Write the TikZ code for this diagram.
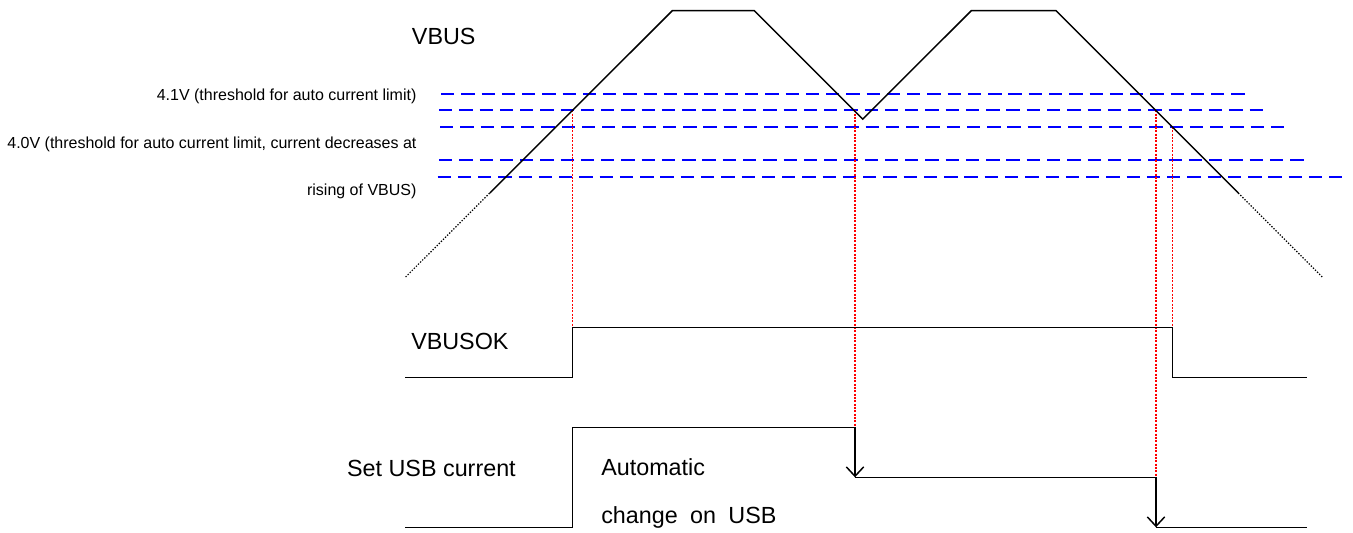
\documentclass[tikz,border=0pt]{standalone}
\usepackage{fontspec}
\setmainfont{Liberation Sans}
\usetikzlibrary{arrows.meta}

\begin{document}
\begin{tikzpicture}[x=0.75pt, y=-0.75pt,
wave/.style={draw=black, line width=1.1pt, line join=miter},
ext/.style={draw=black, line width=0.9pt, dash pattern=on 1pt off 1.2pt},
level/.style={draw=blue, line width=1.5pt, dash pattern=on 10pt off 5.2pt},
guide/.style={draw=red, line width=1.2pt, dash pattern=on 1.5pt off 1pt},
lbl/.style={inner sep=0, font=\fontsize{17.5}{21}\selectfont},
thr/.style={inner sep=0, font=\fontsize{12}{14}\selectfont},
>={Straight Barb[length=7pt,width=13pt]}]
	\useasboundingbox (0,0) rectangle (1353,532);

	% threshold levels
	\draw[level] (441,94) -- (1247,94);
	\draw[level] (439,110.3) -- (1264,110.3);
	\draw[level] (440,127) -- (1284,127);
	\draw[level] (439,160.3) -- (1306,160.3);
	\draw[level] (437.5,177) -- (1342,177);

	\node[thr, anchor=base east] (th41) at (416.7,100.7) {4.1V (threshold for auto current limit)};
	\node[thr, anchor=base east] (th40a) at (416.7,148) {4.0V (threshold for auto current limit, current decreases at};
	\node[thr, anchor=base east] (th40b) at (416.7,195) {rising of VBUS)};

	% crossing points
	\coordinate (c1) at (572.5,110.3);
	\coordinate (c2) at (855,110.3);
	\coordinate (c3) at (1156,110.3);
	\coordinate (c4) at (1172.5,127);

	% VBUSOK and USB current edges
	\coordinate (ok1) at (572.5,327.3);
	\coordinate (ok2) at (1172.5,327.3);
	\coordinate (usb1) at (855,427.3);
	\coordinate (usb2) at (1156,477.3);

	\draw[guide] (c1) -- (ok1);
	\draw[guide] (c2) -- (usb1);
	\draw[guide] (c3) -- (usb2);
	\draw[guide] (c4) -- (ok2);

	% VBUS
	\node[lbl, anchor=base west] (vbus) at (411.7,44) {VBUS};
	\draw[ext] (405.6,277) -- (489.8,193);
	\draw[wave] (489.8,193) -- (672.3,10.7) -- (754.3,10.7) -- (862.7,119.1) -- (971.3,10.7) -- (1056,10.7) -- (1238.3,193);
	\draw[ext] (1238.3,193) -- (1322.3,277);

	% VBUSOK
	\node[lbl, anchor=base west] (vbusok) at (411,349) {VBUSOK};
	\draw[wave] (405,377.3) -- (572.5,377.3) -- (ok1) -- (ok2) -- (1172.5,377.3) -- (1307,377.3);

	% Set USB current
	\node[lbl, anchor=base east] (setusb) at (516,476.7) {Set USB current};
	\draw[wave] (405,527.3) -- (572.5,527.3) -- (572.5,427.3) -- (usb1);
	\draw[wave, ->] (usb1) -- (855,477.3);
	\draw[wave] (855,477.3) -- (usb2);
	\draw[wave, ->] (usb2) -- (1156,527.3);
	\draw[wave] (1156,527.3) -- (1307,527.3);

	\node[lbl, anchor=base west] (auto1) at (601,475) {Automatic};
	\node[lbl, anchor=base west] (auto2) at (601,523.3) {change\hspace{0.53em}on\hspace{0.53em}USB};
\end{tikzpicture}
\end{document}
